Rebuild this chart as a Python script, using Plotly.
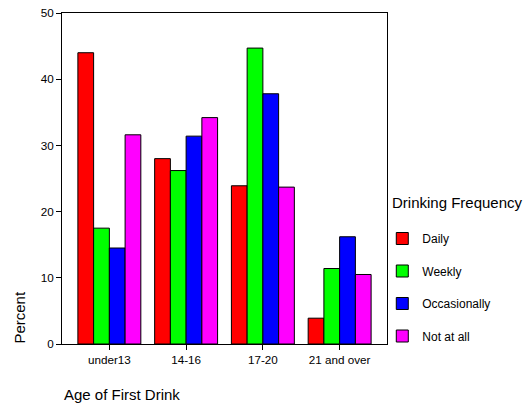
import plotly.graph_objects as go

categories = ["under13", "14-16", "17-20", "21 and over"]
series_names = ["Daily", "Weekly", "Occasionally", "Not at all"]
daily = [44.0, 28.0, 23.9, 3.9]
weekly = [17.5, 26.2, 44.7, 11.4]
occasionally = [14.5, 31.4, 37.8, 16.2]
not_at_all = [31.6, 34.2, 23.7, 10.5]
colors = ["#ff0000", "#00ff00", "#0000ff", "#ff00ff"]
y_ticks = [0, 10, 20, 30, 40, 50]

font = "Liberation Sans, Arial, sans-serif"
fig = go.Figure()
for i, (name, vals) in enumerate(zip(series_names, [daily, weekly, occasionally, not_at_all])):
    fig.add_trace(go.Bar(
        x=categories, y=vals, name=name, legendgroup=name,
        marker=dict(color=colors[i], line=dict(color="black", width=1)),
    ))

fig.update_layout(
    width=523, height=399,
    margin=dict(l=54, r=144, t=5, b=63),
    paper_bgcolor="white", plot_bgcolor="white",
    barmode="group", bargap=0.18, bargroupgap=0,
    font=dict(family=font, size=11.7, color="black"),
    showlegend=True,
    legend=dict(
        x=0.9855, xanchor="left", y=0.3625, yanchor="top",
        xref="paper", yref="paper",
        font=dict(size=12), tracegroupgap=13.5,
        bgcolor="rgba(0,0,0,0)",
    ),
    xaxis=dict(
        type="category", range=[-0.617, 3.617], automargin=False,
        showline=True, linecolor="black", linewidth=1, mirror=True,
        ticks="outside", ticklen=5, tickcolor="black",
        showgrid=False, tickfont=dict(size=11.7),
    ),
    yaxis=dict(
        range=[0, 50], tickvals=y_ticks, automargin=False,
        ticklabeloverflow="allow",
        showline=True, linecolor="black", linewidth=1, mirror=True,
        ticks="outside", ticklen=5, tickcolor="black",
        showgrid=False, zeroline=False, tickfont=dict(size=11.7),
    ),
    annotations=[
        dict(text="Percent", textangle=-90, x=-0.132, y=0.080, xref="paper", yref="paper",
             xanchor="center", yanchor="middle", showarrow=False, font=dict(size=15)),
        dict(text="Age of First Drink", x=0, y=-0.154, xref="paper", yref="paper",
             xanchor="left", yanchor="middle", showarrow=False, font=dict(size=15)),
        dict(text="Drinking Frequency", x=1.009, y=0.426, xref="paper", yref="paper",
             xanchor="left", yanchor="middle", showarrow=False, font=dict(size=15)),
    ],
)

fig.write_html("out.html")
